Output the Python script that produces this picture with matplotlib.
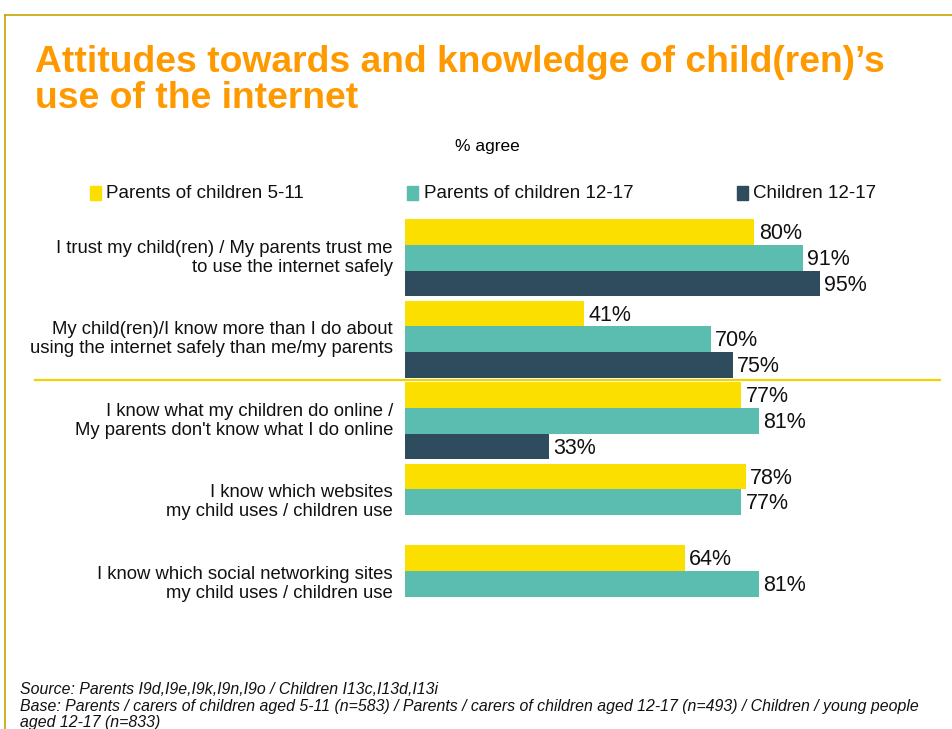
import matplotlib
matplotlib.use("Agg")
import matplotlib.pyplot as plt
from matplotlib.lines import Line2D
from matplotlib.patches import Rectangle

categories = [
    "I trust my child(ren) / My parents trust me\nto use the internet safely",
    "My child(ren)/I know more than I do about\nusing the internet safely than me/my parents",
    "I know what my children do online /\nMy parents don't know what I do online",
    "I know which websites\nmy child uses / children use",
    "I know which social networking sites\nmy child uses / children use",
]
series_names = ["Parents of children 5-11", "Parents of children 12-17", "Children 12-17"]
parents_5_11 = [80, 41, 77, 78, 64]
parents_12_17 = [91, 70, 81, 77, 81]
children_12_17 = [95, 75, 33, None, None]
colors = ["#FADF00", "#5BBCB0", "#2F4B5E"]
title_lines = ["Attitudes towards and knowledge of child(ren)\u2019s", "use of the internet"]
footer_lines = [
    "Source: Parents I9d,I9e,I9k,I9n,I9o / Children I13c,I13d,I13i",
    "Base: Parents / carers of children aged 5-11 (n=583) / Parents / carers of children aged 12-17 (n=493) / Children / young people",
    "aged 12-17 (n=833)",
]

W, H = 952, 729
fig = plt.figure(figsize=(W / 100, H / 100), dpi=100)
FONT = "Liberation Sans"

def fx(px):
    return px / W

def fy(py):
    return 1 - py / H

# border frame
fig.add_artist(Line2D([fx(5), fx(5)], [fy(15), fy(729)], color="#C8A400", lw=1.2))
fig.add_artist(Line2D([fx(5), fx(952)], [fy(15), fy(15)], color="#C8A400", lw=1.2))

# title
for line, base in zip(title_lines, [72, 108]):
    fig.text(fx(35), fy(base), line, color="#FF9900", fontsize=26.8, fontweight="bold",
             family=FONT, ha="left", va="baseline")

fig.text(fx(487), fy(146), "% agree", fontsize=12.5, family=FONT, ha="center", va="center")

# axes: x 405..940 px, y 210..605 px
left, right, top, bottom = 405, 940, 210, 605
ax = fig.add_axes([fx(left), fy(bottom), fx(right - left), (bottom - top) / H])
scale = 415 / 95.0  # px per %
ax.set_xlim(0, (right - left) / scale)
unit = 81.5
h = 25.8 / unit
y_top = -(257.7 - top) / unit
y_bot = y_top + (bottom - top) / unit
ax.set_ylim(y_bot, y_top)
ax.axis("off")

all_series = [parents_5_11, parents_12_17, children_12_17]
offsets = [-h, 0, h]
for s, vals in enumerate(all_series):
    for i, v in enumerate(vals):
        if v is None:
            continue
        y = i + offsets[s]
        ax.barh(y, v, height=h, color=colors[s], edgecolor="none")
        ax.text(v + 1.0, y + 0.02, f"{v}%", fontsize=15.5, family=FONT,
                ha="left", va="center", color="#111111")

for i, c in enumerate(categories):
    ax.text(-12 / scale, i, c, fontsize=13.3, family=FONT, ha="right", va="center",
            linespacing=1.17, color="#111111")

# separator
ax.axhline(1.5, xmin=(35 - left) / (right - left), xmax=1.0, color="#F2D200",
           lw=1.6, clip_on=False)

# legend
leg_items = [(90, 106), (407, 424), (737, 753)]
for (sx, tx), name, col in zip(leg_items, series_names, colors):
    fig.add_artist(Rectangle((fx(sx), fy(200)), fx(11), 14 / H, color=col,
                             transform=fig.transFigure))
    fig.text(fx(tx), fy(193), name, fontsize=13.5, family=FONT, ha="left", va="center",
             color="#111111")

for line, base in zip(footer_lines, [694, 710.5, 727]):
    fig.text(fx(20), fy(base), line, fontsize=11.4, family=FONT, style="italic",
             ha="left", va="baseline", color="#111111")

fig.savefig("out.png", dpi=100)
